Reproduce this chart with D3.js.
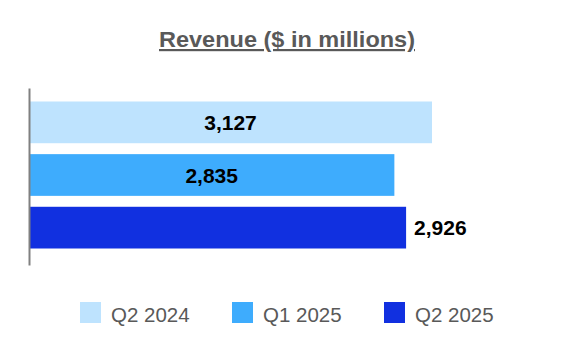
<!DOCTYPE html>
<html>
<head>
<meta charset="utf-8">
<script src="https://cdn.jsdelivr.net/npm/d3@7"></script>
<style>
  html, body { margin: 0; padding: 0; background: #fff; }
  svg { display: block; font-family: "Liberation Sans", Arial, sans-serif; }
</style>
</head>
<body>
<svg id="chart" width="576" height="364"></svg>
<script>
const title = "Revenue ($ in millions)";
const categories = ["Q2 2024", "Q1 2025", "Q2 2025"];
const values = [3127, 2835, 2926];
const colors = ["#bee3fe", "#3eacfd", "#1130e0"];

const svg = d3.select("#chart");
const fmt = d3.format(",");

const x = d3.scaleLinear().domain([0, 3127]).range([29, 432]);
const y = d3.scaleBand().domain(categories).range([101.5, 248.5]).paddingInner(0.2075).paddingOuter(0);

// title
svg.append("text")
  .attr("x", 287).attr("y", 47)
  .attr("text-anchor", "middle")
  .attr("font-size", 22).attr("font-weight", "bold")
  .attr("fill", "#595959")
  .attr("text-decoration", "underline")
  .attr("textLength", 256).attr("lengthAdjust", "spacingAndGlyphs")
  .text(title);

// bars
svg.selectAll("rect.bar").data(categories).enter().append("rect")
  .attr("class", "bar")
  .attr("x", x(0))
  .attr("y", d => y(d))
  .attr("width", (d, i) => x(values[i]) - x(0))
  .attr("height", y.bandwidth())
  .attr("fill", (d, i) => colors[i]);

// axis line
svg.append("g")
  .attr("transform", `translate(${x(0)},0)`)
  .call(d3.axisLeft(d3.scaleLinear().range([88, 265])).ticks(0).tickSize(0))
  .call(g => g.select(".domain").attr("stroke", "#808080").attr("stroke-width", 2))
  .call(g => g.selectAll("text").remove());

// value labels
const last = categories.length - 1;
svg.selectAll("text.val").data(categories).enter().append("text")
  .attr("class", "val")
  .attr("x", (d, i) => i === last ? x(values[i]) + 8 : (x(0) + x(values[i])) / 2)
  .attr("y", d => y(d) + y.bandwidth() / 2)
  .attr("dy", "0.36em")
  .attr("text-anchor", (d, i) => i === last ? "start" : "middle")
  .attr("font-size", 21).attr("font-weight", "bold")
  .attr("fill", "#000")
  .text((d, i) => fmt(values[i]));

// legend
const lg = svg.append("g").selectAll("g").data(categories).enter().append("g")
  .attr("transform", (d, i) => `translate(${80 + i * 152},0)`);
lg.append("rect").attr("x", 0).attr("y", 302).attr("width", 21).attr("height", 21)
  .attr("fill", (d, i) => colors[i]);
lg.append("text").attr("x", 31).attr("y", 322)
  .attr("font-size", 20.5).attr("fill", "#595959").text(d => d);
</script>
</body>
</html>
